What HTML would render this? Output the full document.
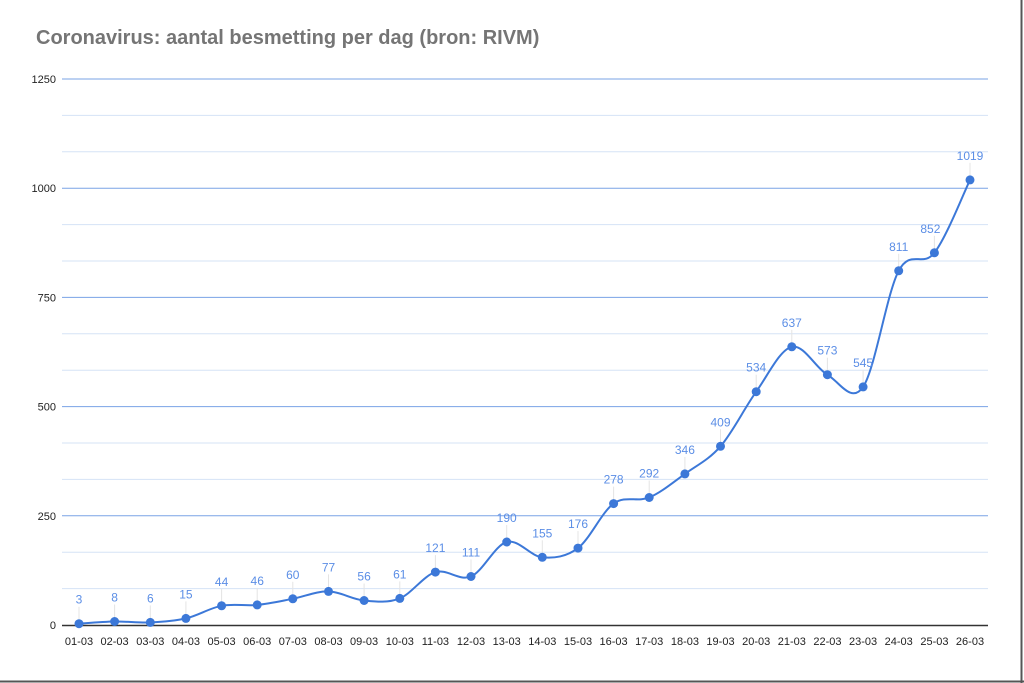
<!DOCTYPE html>
<html><head><meta charset="utf-8"><style>
html,body{margin:0;padding:0;background:#fff}
#c{position:relative;width:1024px;height:683px;overflow:hidden}
</style></head><body><div id="c">
<svg id="s" width="1024" height="683" xmlns="http://www.w3.org/2000/svg">
<rect x="0" y="0" width="1024" height="683" fill="#fff"/>
<line x1="1021.5" y1="0" x2="1021.5" y2="683" stroke="#555" stroke-width="2"/>
<line x1="0" y1="681.5" x2="1024" y2="681.5" stroke="#555" stroke-width="2"/>
<text x="36" y="44" font-family="Liberation Sans, sans-serif" font-size="20" font-weight="bold" fill="#757575">Coronavirus: aantal besmetting per dag (bron: RIVM)</text>
<g id="g"></g>
</svg>
</div>
<script>
var d=[3,8,6,15,44,46,60,77,56,61,121,111,190,155,176,278,292,346,409,534,637,573,545,811,852,1019];
var g=document.getElementById('g'),h='';
var y0=625,sc=546/1250,x0=79,st=(970-79)/25;
function Y(v){return y0-v*sc}
for(var i=1;i<=15;i++){var v=i*250/3,yy=Y(v);var maj=i%3==0;
h+='<line x1="62" x2="988" y1="'+yy.toFixed(1)+'" y2="'+yy.toFixed(1)+'" stroke="'+(maj?'#7aa3e6':'#d5e3f6')+'" stroke-width="1"/>';}
[0,250,500,750,1000,1250].forEach(function(v){h+='<text x="56" y="'+(Y(v)+4)+'" text-anchor="end" font-family="Liberation Sans Narrow, Liberation Sans, sans-serif" font-size="11" fill="#222">'+v+'</text>';});
h+='<line x1="62" x2="988" y1="625.5" y2="625.5" stroke="#333" stroke-width="1.5"/>';
var P=d.map(function(v,i){return [x0+i*st,Y(v)]});
P.forEach(function(q){h+='<line x1="'+q[0].toFixed(1)+'" x2="'+q[0].toFixed(1)+'" y1="'+(q[1]-17).toFixed(1)+'" y2="'+q[1].toFixed(1)+'" stroke="#e4e4e4" stroke-width="1"/>';});
var p='M'+P[0][0]+','+P[0][1];
for(var i=0;i<P.length-1;i++){var a=P[i>0?i-1:i],b=P[i],c=P[i+1],e=P[i+2<P.length?i+2:i+1],t=1/3;
p+=' C'+(b[0]+(c[0]-a[0])*t/2).toFixed(1)+','+(b[1]+(c[1]-a[1])*t/2).toFixed(1)+' '+(c[0]-(e[0]-b[0])*t/2).toFixed(1)+','+(c[1]-(e[1]-b[1])*t/2).toFixed(1)+' '+c[0].toFixed(1)+','+c[1].toFixed(1);}
h+='<path d="'+p+'" fill="none" stroke="#3c78d8" stroke-width="2"/>';
P.forEach(function(q,i){h+='<circle cx="'+q[0].toFixed(1)+'" cy="'+q[1].toFixed(1)+'" r="4.5" fill="#3c78d8"/>';
var n=String(d[i]);var lx=q[0],ly=q[1]-20;if(i==24){lx=q[0]-4;}
h+='<text x="'+lx.toFixed(1)+'" y="'+ly.toFixed(1)+'" text-anchor="middle" font-family="Liberation Sans, sans-serif" font-size="12" fill="#5b8ee6">'+n+'</text>';
var dd=(i+1<10?'0':'')+(i+1)+'-03';
h+='<text x="'+q[0].toFixed(1)+'" y="645" text-anchor="middle" font-family="Liberation Sans Narrow, Liberation Sans, sans-serif" font-size="11" fill="#222">'+dd+'</text>';});
g.innerHTML=h;
</script>
</body></html>
